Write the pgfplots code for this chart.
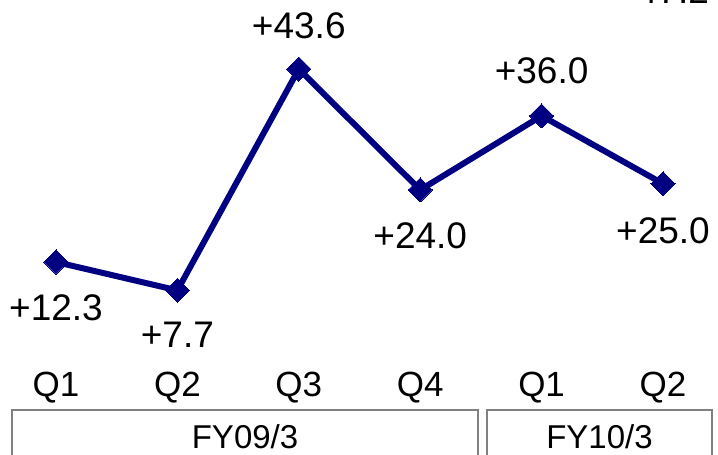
\documentclass[border=0pt]{standalone}
\usepackage{pgfplots}
\pgfplotsset{compat=1.18}
\usepackage{fontspec}
\setmainfont{Liberation Sans}
\definecolor{navyline}{RGB}{0,0,128}
\definecolor{boxgray}{RGB}{128,128,128}
\tikzset{
  val/.style={font=\fontsize{37bp}{40bp}\selectfont, inner sep=0pt, anchor=base},
  cat/.style={font=\fontsize{35bp}{40bp}\selectfont, inner sep=0pt, anchor=base},
  fy/.style={font=\fontsize{33bp}{38bp}\selectfont, inner sep=0pt, anchor=base},
}
\begin{document}
\begin{tikzpicture}
\begin{axis}[name=ax, width=718bp, height=455bp, scale only axis,
  hide axis, clip=false,
  xmin=-0.4613, xmax=5.4530, ymin=-19.0, ymax=54.8]
\addplot[navyline, line width=6bp, mark=square*, mark size=8.5bp,
  mark options={rotate=45, line width=0pt}]
  coordinates {(0,12.3) (1,7.7) (2,43.6) (3,24.0) (4,36.0) (5,25.0)};

% value labels
\node[val, yshift=-58bp] at (axis cs:0,12.3) {+12.3};
\node[val, yshift=-57bp] at (axis cs:1,7.7) {+7.7};
\node[val, yshift=31bp]  at (axis cs:2,43.6) {+43.6};
\node[val, yshift=-59bp] at (axis cs:3,24.0) {+24.0};
\node[val, yshift=32bp]  at (axis cs:4,36.0) {+36.0};
\node[val, yshift=-60bp] at (axis cs:5,25.0) {+25.0};
% cut-off label at the top right
\node[val, anchor=base east] at (axis cs:5.38,54.3) {+47.2};

% quarters
\node[cat] at (axis cs:0,-9.59) {Q1};
\node[cat] at (axis cs:1,-9.59) {Q2};
\node[cat] at (axis cs:2,-9.59) {Q3};
\node[cat] at (axis cs:3,-9.59) {Q4};
\node[cat] at (axis cs:4,-9.59) {Q1};
\node[cat] at (axis cs:5,-9.59) {Q2};

% fiscal year boxes
\draw[boxgray, line width=1.5bp] (axis cs:-0.362,-22) -- (axis cs:-0.362,-11.7)
  -- (axis cs:3.476,-11.7) -- (axis cs:3.476,-22);
\draw[boxgray, line width=1.5bp] (axis cs:3.550,-22) -- (axis cs:3.550,-11.7)
  -- (axis cs:5.404,-11.7) -- (axis cs:5.404,-22);
\node[fy] at (axis cs:1.557,-17.87) {FY09/3};
\node[fy] at (axis cs:4.477,-17.87) {FY10/3};
\end{axis}
\pgfresetboundingbox
\useasboundingbox (ax.south west) rectangle (ax.north east);
\end{tikzpicture}
\end{document}
